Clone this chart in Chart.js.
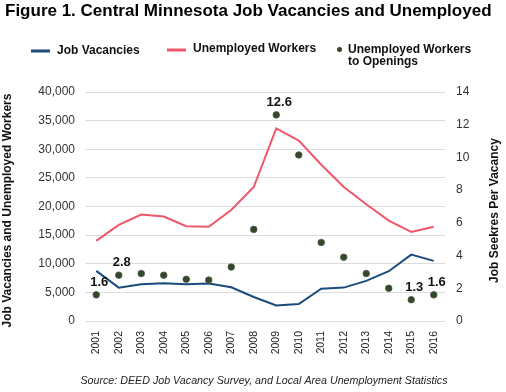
<!DOCTYPE html>
<html>
<head>
<meta charset="utf-8">
<script src="https://cdn.jsdelivr.net/npm/chart.js@4/dist/chart.umd.min.js"></script>
<style>
  html, body { margin: 0; padding: 0; background: #fff; }
  #wrap { width: 506px; height: 392px; position: relative; }
</style>
</head>
<body>
<div id="wrap"><canvas id="c" width="506" height="392"></canvas></div>
<script>
const years = ['2001','2002','2003','2004','2005','2006','2007','2008','2009','2010','2011','2012','2013','2014','2015','2016'];
const jobVacancies = [8750, 5830, 6420, 6600, 6400, 6550, 5900, 4200, 2700, 2970, 5650, 5830, 7000, 8700, 11600, 10500];
const unemployedWorkers = [14000, 16800, 18600, 18250, 16570, 16450, 19400, 23400, 33650, 31500, 27300, 23400, 20400, 17550, 15570, 16450];
const seekersPerOpening = [1.6, 2.8, 2.9, 2.8, 2.55, 2.5, 3.3, 5.6, 12.6, 10.15, 4.8, 3.9, 2.9, 2.0, 1.3, 1.6];
const labelledYears = ['2001', '2002', '2009', '2015', '2016'];
const titleText = 'Figure 1. Central Minnesota Job Vacancies and Unemployed';
const sourceText = 'Source: DEED Job Vacancy Survey, and Local Area Unemployment Statistics';
const leftAxisTitle = 'Job Vacancies and Unemployed Workers';
const rightAxisTitle = 'Job Seekres Per Vacancy';

const BLUE = '#1b4b7c';
const RED = '#f0576a';
const DOT = '#33472a';
const FONT = '"Liberation Sans", Arial, Helvetica, sans-serif';

const decor = {
  id: 'decor',
  afterDraw(chart) {
    const ctx = chart.ctx;
    const area = chart.chartArea;
    ctx.save();
    // Title
    ctx.fillStyle = '#000';
    ctx.font = 'bold 17px ' + FONT;
    ctx.textAlign = 'left';
    ctx.textBaseline = 'alphabetic';
    ctx.fillText(titleText, 5, 16);

    // Legend
    ctx.font = 'bold 12px ' + FONT;
    ctx.textBaseline = 'middle';
    ctx.lineWidth = 3;
    ctx.strokeStyle = BLUE;
    ctx.beginPath(); ctx.moveTo(31, 51); ctx.lineTo(50, 51); ctx.stroke();
    ctx.fillStyle = '#111';
    ctx.fillText(chart.data.datasets[0].label, 57, 51);
    ctx.strokeStyle = RED;
    ctx.beginPath(); ctx.moveTo(167, 50); ctx.lineTo(186, 50); ctx.stroke();
    ctx.fillText(chart.data.datasets[1].label, 193, 49);
    ctx.fillStyle = DOT;
    ctx.beginPath(); ctx.arc(339.5, 49.5, 2.5, 0, Math.PI * 2); ctx.fill();
    ctx.fillStyle = '#111';
    const l3 = chart.data.datasets[2].label;
    ctx.fillText(l3[0], 348, 50);
    ctx.fillText(l3[1], 348, 62);

    // Axis titles (both read bottom-to-top)
    const midY = (area.top + area.bottom) / 2 + 4;
    ctx.font = 'bold 12px ' + FONT;
    ctx.textAlign = 'center';
    ctx.textBaseline = 'middle';
    ctx.fillStyle = '#111';
    ctx.save();
    ctx.translate(8, midY);
    ctx.rotate(-Math.PI / 2);
    ctx.fillText(leftAxisTitle, 0, 0);
    ctx.restore();
    ctx.save();
    ctx.translate(495, midY);
    ctx.rotate(-Math.PI / 2);
    ctx.fillText(rightAxisTitle, 0, 0);
    ctx.restore();

    // Data labels
    const meta = chart.getDatasetMeta(2);
    ctx.font = 'bold 13px ' + FONT;
    ctx.textAlign = 'center';
    ctx.textBaseline = 'middle';
    ctx.fillStyle = '#111';
    years.forEach((y, i) => {
      if (labelledYears.includes(y)) {
        const p = meta.data[i];
        ctx.fillText(String(seekersPerOpening[i]), p.x + 3, p.y - 12.5);
      }
    });

    // Source
    ctx.font = 'italic 10.7px ' + FONT;
    ctx.fillStyle = '#222';
    ctx.textAlign = 'center';
    ctx.textBaseline = 'middle';
    ctx.fillText(sourceText, 264, 381);
    ctx.restore();
  }
};

new Chart(document.getElementById('c'), {
  type: 'line',
  data: {
    labels: years,
    datasets: [
      {
        label: 'Job Vacancies',
        data: jobVacancies,
        yAxisID: 'y',
        borderColor: BLUE,
        backgroundColor: BLUE,
        borderWidth: 2,
        pointRadius: 0,
        tension: 0,
        order: 2
      },
      {
        label: 'Unemployed Workers',
        data: unemployedWorkers,
        yAxisID: 'y',
        borderColor: RED,
        backgroundColor: RED,
        borderWidth: 2,
        pointRadius: 0,
        tension: 0,
        order: 3
      },
      {
        label: ['Unemployed Workers', 'to Openings'],
        data: seekersPerOpening,
        yAxisID: 'y1',
        showLine: false,
        pointRadius: 3.3,
        pointBackgroundColor: DOT,
        pointBorderColor: '#4d5f44',
        pointBorderWidth: 0.8,
        order: 1
      }
    ]
  },
  options: {
    responsive: false,
    animation: false,
    devicePixelRatio: 1,
    layout: { padding: { top: 92, left: 0, right: 0, bottom: 0 } },
    plugins: {
      legend: { display: false },
      title: { display: false },
      tooltip: { enabled: false }
    },
    scales: {
      x: {
        offset: true,
        grid: { display: false, drawTicks: false },
        border: { display: false },
        ticks: {
          minRotation: 90, maxRotation: 90,
          padding: 10,
          color: '#222',
          font: { family: FONT, size: 10.5 }
        },
        afterFit(s) { s.height = 71; }
      },
      y: {
        position: 'left',
        min: 0, max: 40000,
        ticks: {
          stepSize: 5000,
          padding: 10,
          color: '#333',
          font: { family: FONT, size: 12 },
          callback: v => v.toLocaleString('en-US')
        },
        grid: { color: '#dcdcdc', lineWidth: 1, drawTicks: false },
        border: { display: false },
        title: { display: false },
        afterFit(s) { s.width = 85; }
      },
      y1: {
        position: 'right',
        min: 0, max: 14,
        ticks: {
          stepSize: 2,
          padding: 11,
          color: '#333',
          font: { family: FONT, size: 12 }
        },
        grid: { display: false, drawTicks: false },
        border: { display: false },
        title: { display: false },
        afterFit(s) { s.width = 61; }
      }
    }
  },
  plugins: [decor]
});
</script>
</body>
</html>
